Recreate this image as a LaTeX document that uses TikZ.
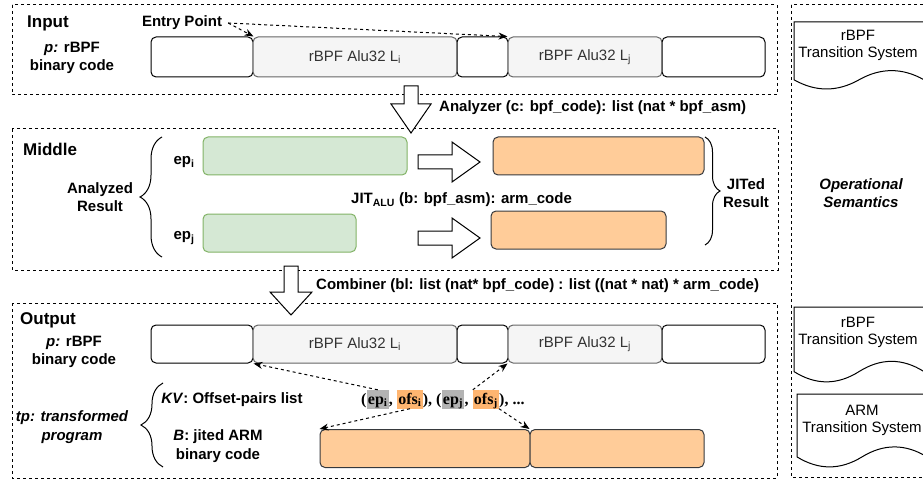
\documentclass[tikz,border=0pt]{standalone}
\usepackage{fontspec}
\setmainfont{Liberation Sans}
\newfontfamily\timesf{Liberation Serif}
\usetikzlibrary{arrows.meta,decorations.pathreplacing}
\definecolor{grayfill}{HTML}{F5F5F5}
\definecolor{graystroke}{HTML}{666666}
\definecolor{graytext}{HTML}{333333}
\definecolor{greenfill}{HTML}{D5E8D4}
\definecolor{greenstroke}{HTML}{82B366}
\definecolor{orangefill}{HTML}{FFCC99}
\definecolor{orangestroke}{HTML}{36393D}
\definecolor{hlgray}{HTML}{B3B3B3}
\definecolor{hlorange}{HTML}{FFB570}
\begin{document}
\begin{tikzpicture}[x=1pt,y=-1pt,
  frame/.style={draw, dash pattern=on 3pt off 3pt, line width=1pt},
  blk/.style={draw, rounded corners=5pt, line width=1pt, minimum height=40pt, inner sep=0pt},
  wblk/.style={blk, fill=white},
  gblk/.style={blk, fill=grayfill, draw=graystroke, text=graytext, font=\fontsize{15}{18}\selectfont},
  grn/.style={blk, fill=greenfill, draw=greenstroke, minimum height=38pt},
  org/.style={blk, fill=orangefill, draw=orangestroke, minimum height=38pt},
  lbl/.style={font=\bfseries\fontsize{15}{18.5}\selectfont, align=center, inner sep=0pt},
  plbl/.style={font=\bfseries\fontsize{15}{17.5}\selectfont, align=center, inner sep=0pt},
  ttl/.style={font=\bfseries\fontsize{17}{20}\selectfont, inner sep=0pt},
  doctxt/.style={font=\fontsize{15}{17.5}\selectfont, align=center, inner sep=0pt},
  hollow/.style={draw, fill=white, line width=1pt, line join=miter},
  docs/.style={draw, fill=white, line width=1pt},
  dconn/.style={dash pattern=on 3pt off 3pt, line width=1pt, -{Stealth[length=9pt,width=7pt]}},
  brc/.style={decorate, decoration={brace, amplitude=#1}, line width=1pt},
  ttxt/.style={font=\timesf\bfseries\fontsize{16}{18}\selectfont, inner sep=0pt, anchor=base west},
  hlg/.style={fill=hlgray, inner xsep=1pt, inner ysep=0pt, text height=14pt, text depth=4.5pt},
  hlo/.style={fill=hlorange, inner xsep=1pt, inner ysep=0pt, text height=14pt, text depth=4.5pt}
]
\useasboundingbox (0,0) rectangle (923,481);
\clip (0,0) rectangle (923,481);

% frames
\draw[frame] (12,5) rectangle (777,95);
\draw[frame] (12,129) rectangle (778,270);
\draw[frame] (12,303) rectangle (777,478);
\draw[frame] (791,5) rectangle (940,477);

% ---------- Input ----------
\node[ttl, anchor=west] (inT) at (27,23) {Input};
\node[plbl] (inP) at (72,58) {\textit{p:} rBPF\\binary code};
\node[lbl] (entry) at (182,23) {Entry Point};

\node[wblk, minimum width=102pt] (i1) at (202,57) {};
\node[gblk, minimum width=204pt] (i2) at (355,57) {rBPF Alu32 L\textsubscript{i}};
\node[wblk, minimum width=51pt] (i3) at (482.5,57) {};
\node[gblk, minimum width=154pt] (i4) at (585,57) {rBPF Alu32 L\textsubscript{j}};
\node[wblk, minimum width=103pt] (i5) at (713.5,57) {};

\draw[dconn] ([xshift=6pt]entry.east) -- (i1.north east);
\draw[dconn] ([xshift=6pt]entry.east) -- (i4.north west);

% analyzer arrow
\draw[hollow] (404,86) -- (418,86) -- (418,104) -- (431,104) -- (411,133) -- (391,104) -- (404,104) -- cycle;
\node[lbl, anchor=west] (anz) at (439,108) {Analyzer (c: bpf\_code): list (nat * bpf\_asm)};

% ---------- Middle ----------
\node[ttl, anchor=west] (midT) at (23,149) {Middle};
\node[lbl] (anR) at (100,197) {Analyzed\\Result};
\draw[brc=22] (162,257) -- (162,137);
\node[lbl] (epiL) at (184,162) {ep\textsubscript{i}};
\node[lbl] (epjL) at (184,238) {ep\textsubscript{j}};
\node[grn, minimum width=204pt] (gi) at (305,156) {};
\node[grn, minimum width=153pt] (gj) at (279.5,233) {};

\draw[hollow] (418,155) -- (452,155) -- (452,142) -- (480,162) -- (452,182) -- (452,169) -- (418,169) -- cycle;
\draw[hollow] (418,231) -- (452,231) -- (452,218) -- (480,238) -- (452,258) -- (452,245) -- (418,245) -- cycle;

\node[org, minimum width=211pt] (oi) at (598.5,156) {};
\node[org, minimum width=175pt] (oj) at (578.5,230) {};
\node[lbl, anchor=west] (jit) at (351,200) {JIT\textsubscript{ALU} (b: bpf\_asm): arm\_code};
\draw[brc=15] (705,137) -- (705,245);
\node[lbl] (jr) at (746,193) {JITed\\Result};

% combiner arrow
\draw[hollow] (284,266) -- (298,266) -- (298,292) -- (312,292) -- (291,315) -- (270,292) -- (284,292) -- cycle;
\node[lbl, anchor=west] (comb) at (316,286) {Combiner (bl: list (nat* bpf\_code) : list ((nat * nat) * arm\_code)};

% ---------- Output ----------
\node[ttl, anchor=west] (outT) at (20,320) {Output};
\node[plbl] (outP) at (74,352) {\textit{p:} rBPF\\binary code};

\node[wblk, minimum width=102pt, minimum height=38pt] (o1) at (202,344) {};
\node[gblk, minimum width=204pt, minimum height=38pt] (o2) at (355,344) {rBPF Alu32 L\textsubscript{i}};
\node[wblk, minimum width=51pt, minimum height=38pt] (o3) at (482.5,344) {};
\node[gblk, minimum width=154pt, minimum height=38pt] (o4) at (585,344) {rBPF Alu32 L\textsubscript{j}};
\node[wblk, minimum width=103pt, minimum height=38pt] (o5) at (713.5,344) {};

\draw[brc=22] (163,467) -- (163,383);
\node[lbl, font=\bfseries\itshape\fontsize{15}{18.5}\selectfont] (tp) at (72,427) {tp: transformed\\program};
\node[lbl] (kv) at (232,400) {\textit{KV}: Offset-pairs list};
\node[lbl] (bj) at (218,446) {\textit{B}: jited ARM\\binary code};

\node[org, minimum width=210pt] (b1) at (425,448.5) {};
\node[org, minimum width=174pt] (b2) at (617,448.5) {};

% offset pairs text
\node[ttxt] (q0) at (361,404) {(};
\node[ttxt, hlg] (epi) at (q0.base east) {ep\textsubscript{i}};
\node[ttxt] (q1) at (epi.base east) {,\kern4pt};
\node[ttxt, hlo] (ofsi) at (q1.base east) {ofs\textsubscript{i}};
\node[ttxt] (q2) at (ofsi.base east) {),\kern4pt(};
\node[ttxt, hlg] (epj) at (q2.base east) {ep\textsubscript{j}};
\node[ttxt] (q3) at (epj.base east) {,\kern4pt};
\node[ttxt, hlo] (ofsj) at (q3.base east) {ofs\textsubscript{j}};
\node[ttxt] (q4) at (ofsj.base east) {),\kern4pt...};

\draw[dconn] (epi.north) -- (o1.south east);
\draw[dconn] (ofsi.south) -- (b1.north west);
\draw[dconn] (ofsj.north west) -- (o4.south west);
\draw[dconn] (ofsj.south east) -- (b2.north west);

% ---------- Right panel ----------
\draw[docs] (794,22) -- (924,22) -- (924,79.8) .. controls (902.33,67.56) and (880.67,67.56) .. (859,79.8) .. controls (837.33,92.04) and (815.67,92.04) .. (794,79.8) -- cycle;
\node[doctxt] (d1) at (858,45.5) {rBPF\\Transition System};

\node[lbl, font=\bfseries\itshape\fontsize{15}{18.5}\selectfont] (ops) at (861,193) {Operational\\Semantics};

\draw[docs] (794,307) -- (924,307) -- (924,371.6) .. controls (902.33,357.92) and (880.67,357.92) .. (859,371.6) .. controls (837.33,385.28) and (815.67,385.28) .. (794,371.6) -- cycle;
\node[doctxt] (d2) at (858,332.5) {rBPF\\Transition System};

\draw[docs] (797,394) -- (927,394) -- (927,456.9) .. controls (905.33,443.58) and (883.67,443.58) .. (862,456.9) .. controls (840.33,470.22) and (818.67,470.22) .. (797,456.9) -- cycle;
\node[doctxt] (d3) at (862,420.5) {ARM\\Transition System};
\end{tikzpicture}
\end{document}
